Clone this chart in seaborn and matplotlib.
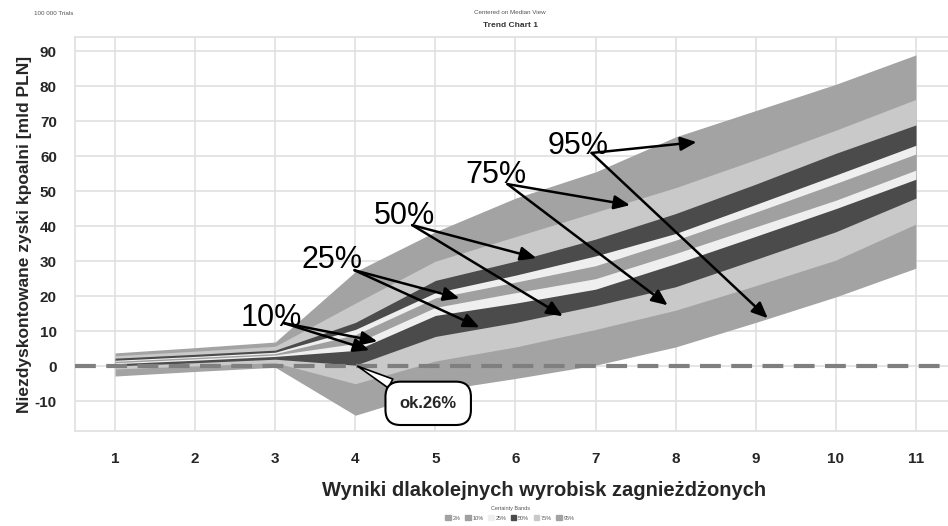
import matplotlib
matplotlib.use("Agg")
import matplotlib.pyplot as plt
import seaborn as sns
import pandas as pd
from matplotlib.patches import Patch

# values (percentile band edges per step)
steps = [1, 2, 3, 4, 5, 6, 7, 8, 9, 10, 11]
p95_hi = [3.8, 5.3, 6.9, 27.0, 38.4, 48.0, 55.5, 65.5, 73.0, 80.5, 88.9]
p75_hi = [3.0, 4.3, 5.7, 18.0, 30.0, 37.0, 44.0, 51.0, 59.0, 67.4, 76.2]
p50_hi = [2.3, 3.4, 4.6, 12.5, 24.5, 30.0, 36.3, 43.6, 52.0, 60.8, 68.9]
p25_hi = [1.7, 2.8, 4.0, 10.5, 21.0, 26.0, 31.5, 37.9, 46.2, 54.6, 63.1]
p10_hi = [1.4, 2.5, 3.6, 9.0, 19.5, 24.0, 28.7, 36.0, 44.0, 52.2, 60.6]
p10_lo = [1.0, 2.1, 3.2, 6.5, 16.8, 21.0, 25.0, 32.2, 39.8, 47.4, 56.0]
p25_lo = [0.7, 1.7, 2.8, 4.5, 14.5, 18.0, 22.0, 29.3, 37.1, 45.0, 53.4]
p50_lo = [0.1, 1.0, 2.0, 0.3, 8.5, 12.5, 17.3, 22.7, 30.5, 38.4, 48.0]
p75_lo = [-0.8, 0.1, 1.0, -5.0, 1.5, 5.5, 10.5, 16.0, 23.0, 30.3, 40.6]
p95_lo = [-2.8, -1.5, -0.3, -14.0, -7.0, -3.5, 0.3, 5.5, 12.5, 19.8, 28.0]

legend_labels = ["2%", "10%", "25%", "50%", "75%", "95%"]
band_labels = ["10%", "25%", "50%", "75%", "95%"]
# label position, arrow tips
label_pos = [(2.95, 13.7), (3.71, 30.3), (4.61, 42.9), (5.76, 54.6), (6.78, 62.9)]
arrow_from = [(3.11, 12.3), (3.99, 27.4), (4.71, 40.3), (5.9, 52.0), (6.95, 60.9)]
arrow_to = [[(4.275, 7.1), (4.175, 4.6)],
            [(5.3, 19.4), (5.55, 11.1)],
            [(6.26, 30.9), (6.59, 14.3)],
            [(7.43, 46.0), (7.9, 17.4)],
            [(8.26, 64.0), (9.15, 13.7)]]

df = pd.DataFrame({"step": steps, "p95_hi": p95_hi, "p75_hi": p75_hi, "p50_hi": p50_hi,
                   "p25_hi": p25_hi, "p10_hi": p10_hi, "p10_lo": p10_lo, "p25_lo": p25_lo,
                   "p50_lo": p50_lo, "p75_lo": p75_lo, "p95_lo": p95_lo})

sns.set_theme(style="whitegrid")
plt.rcParams["font.family"] = ["Liberation Sans", "DejaVu Sans"]
plt.rcParams["axes.unicode_minus"] = False

c_outer = "#a3a3a3"
c_light = "#c9c9c9"
c_dark = "#4b4b4b"
c_white = "#efefef"
c_mid = "#a0a0a0"

fig = plt.figure(figsize=(9.48, 5.26), dpi=100)
ax = fig.add_axes([0.0791, 0.1806, 0.9209, 0.749])

ax.fill_between(df["step"], df["p95_lo"], df["p95_hi"], color=c_outer, lw=0, zorder=2)
ax.fill_between(df["step"], df["p75_lo"], df["p75_hi"], color=c_light, lw=0, zorder=3)
ax.fill_between(df["step"], df["p50_lo"], df["p50_hi"], color=c_dark, lw=0, zorder=4)
ax.fill_between(df["step"], df["p25_lo"], df["p25_hi"], color=c_white, lw=0, zorder=5)
ax.fill_between(df["step"], df["p10_lo"], df["p10_hi"], color=c_mid, lw=0, zorder=6)

ax.axhline(0, color="#7f7f7f", lw=3, linestyle=(0, (5, 2.5)), zorder=7)

ax.set_xlim(0.5, 11.4)
ax.set_ylim(-18.5, 94)
ax.set_xticks(steps)
ax.set_yticks(range(-10, 91, 10))
ax.grid(True, color="#e0e0e0", lw=1.2)
for s in ax.spines.values():
    s.set_color("#e0e0e0")
ax.spines["right"].set_visible(False)
ax.tick_params(axis="x", pad=9, labelsize=11)
ax.tick_params(axis="y", pad=7, labelsize=11)
for lab in ax.get_xticklabels() + ax.get_yticklabels():
    lab.set_fontweight("bold")

ax.set_xlabel("Wyniki dlakolejnych wyrobisk zagnieżdżonych", fontsize=14.5, fontweight="bold", labelpad=11)
ax.xaxis.label.set_x(0.537)
ax.set_ylabel("Niezdyskontowane zyski kpoalni [mld PLN]", fontsize=12.5, fontweight="bold", labelpad=2)

for lab, pos, start, tips in zip(band_labels, label_pos, arrow_from, arrow_to):
    ax.text(pos[0], pos[1], lab, fontsize=22, ha="center", va="center", color="black", zorder=10)
    for tip in tips:
        ax.annotate("", xy=tip, xytext=start, zorder=10,
                    arrowprops=dict(arrowstyle="-|>,head_length=0.8,head_width=0.35",
                                    color="black", lw=1.8, shrinkA=0, shrinkB=0))

ax.annotate("ok.26%", xy=(4.03, 0.0), xytext=(4.91, -10.6), fontsize=12, fontweight="bold",
            ha="center", va="center", zorder=11,
            bbox=dict(boxstyle="round,pad=0.85,rounding_size=0.9", fc="white", ec="black", lw=1.5),
            arrowprops=dict(arrowstyle="wedge,tail_width=0.6", fc="white", ec="black", lw=1.2,
                            shrinkA=0, shrinkB=0))

fig.text(0.057, 0.975, "100 000 Trials", fontsize=4.5, color="#555555", ha="center", va="center")
fig.text(0.538, 0.977, "Centered on Median View", fontsize=4.5, color="#555555", ha="center", va="center")
fig.text(0.538, 0.952, "Trend Chart 1", fontsize=6, fontweight="bold", color="#333333", ha="center", va="center")
fig.text(0.538, 0.034, "Certainty Bands", fontsize=4, color="#555555", ha="center", va="center")

handles = [Patch(color=c) for c in [c_outer, c_mid, c_white, c_dark, c_light, c_outer]]
fig.legend(handles, legend_labels, loc="center", bbox_to_anchor=(0.538, 0.015), ncol=6,
           fontsize=4, frameon=False, handlelength=1.0, handleheight=1.0, columnspacing=0.8,
           handletextpad=0.3, labelcolor="#555555")

fig.savefig("out.png", dpi=100)
